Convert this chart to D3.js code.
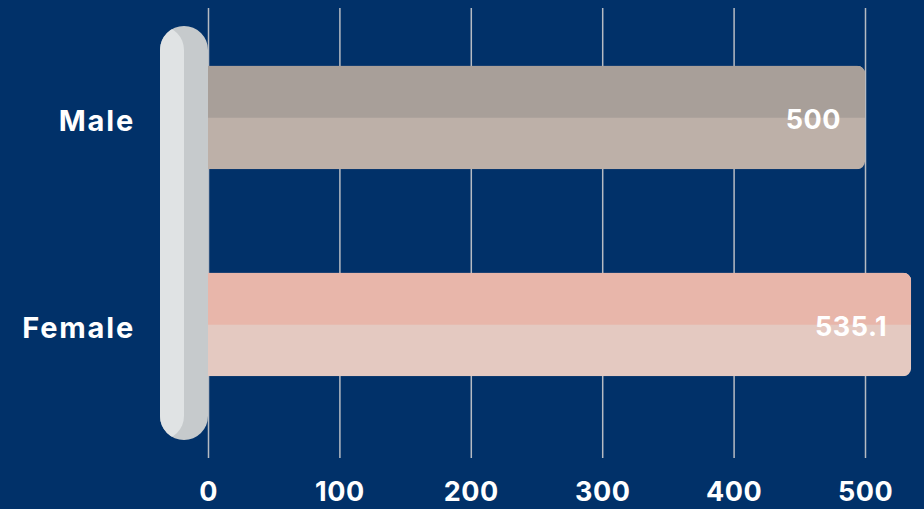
<!DOCTYPE html>
<html>
<head>
<meta charset="utf-8">
<script src="https://cdn.jsdelivr.net/npm/d3@7"></script>
<style>
  html, body { margin: 0; padding: 0; background: #013169; }
  svg { display: block; }
  text { font-family: Inter, "Open Sans", sans-serif; fill: #ffffff; }
</style>
</head>
<body>
<svg id="chart" width="924" height="509"></svg>
<script>
// Data
const categories = ["Male", "Female"];
const values = [500, 535.1];
const tickValues = [0, 100, 200, 300, 400, 500];
const topColors = ["#a89f99", "#e8b6aa"];
const bottomColors = ["#bdb0a8", "#e4c9c1"];

const W = 924, H = 509;
const svg = d3.select("#chart");

svg.append("rect").attr("width", W).attr("height", H).attr("fill", "#013169");

const x = d3.scaleLinear().domain([0, 500]).range([208, 865]);
const y = d3.scaleBand().domain(categories).range([14, 428]).paddingInner(0.5).paddingOuter(0.25);

// Gridlines and tick labels
const gridTop = 8, gridBottom = 458;
const axis = d3.axisBottom(x)
  .tickValues(tickValues)
  .tickSize(-(gridBottom - gridTop))
  .tickFormat(d3.format("d"));

const gAxis = svg.append("g")
  .attr("transform", `translate(0,${gridBottom})`)
  .call(axis);
gAxis.select(".domain").remove();
gAxis.selectAll(".tick line")
  .attr("stroke", "#b6bbc3")
  .attr("stroke-width", 1.5);
gAxis.selectAll(".tick text")
  .attr("y", 43)
  .attr("dy", null)
  .attr("fill", "#ffffff")
  .style("font-size", "27px")
  .style("font-weight", 700)
  .style("letter-spacing", "0.5px");

// Bars: two-tone, rounded at the value end
const defs = svg.append("defs");
const bars = svg.append("g");
categories.forEach((c, i) => {
  const x0 = x(0) - 30, x1 = x(values[i]);
  const y0 = y(c), h = y.bandwidth();
  const cid = "barclip" + i;
  defs.append("clipPath").attr("id", cid)
    .append("rect")
    .attr("x", x0).attr("y", y0)
    .attr("width", x1 - x0).attr("height", h)
    .attr("rx", 8).attr("ry", 8);
  const g = bars.append("g").attr("clip-path", `url(#${cid})`);
  g.append("rect")
    .attr("x", x0).attr("y", y0)
    .attr("width", x1 - x0).attr("height", h)
    .attr("fill", bottomColors[i]);
  g.append("rect")
    .attr("x", x0).attr("y", y0)
    .attr("width", x1 - x0).attr("height", Math.round(h / 2))
    .attr("fill", topColors[i]);
});

// Value labels inside the bars
svg.append("g").selectAll("text")
  .data(categories)
  .join("text")
  .attr("x", (c, i) => x(values[i]) - 24)
  .attr("y", c => y(c) + y.bandwidth() / 2 + 11)
  .attr("text-anchor", "end")
  .style("font-size", "27px")
  .style("font-weight", 700)
  .style("letter-spacing", "0.5px")
  .text((c, i) => d3.format("~f")(values[i]));

// Category labels
svg.append("g").selectAll("text")
  .data(categories)
  .join("text")
  .attr("x", 135)
  .attr("y", c => y(c) + y.bandwidth() / 2 + 13.5)
  .attr("text-anchor", "end")
  .style("font-size", "29px")
  .style("font-weight", 700)
  .style("letter-spacing", "1.8px")
  .text(c => c);

// Rounded pillar along the value axis origin
const px = 160, pw = 48, py = 26, ph = 414;
defs.append("clipPath").attr("id", "pillclip")
  .append("rect")
  .attr("x", px).attr("y", py).attr("width", pw).attr("height", ph)
  .attr("rx", pw / 2).attr("ry", pw / 2);
const pill = svg.append("g").attr("clip-path", "url(#pillclip)");
pill.append("rect")
  .attr("x", px).attr("y", py).attr("width", pw).attr("height", ph)
  .attr("fill", "#c6cacc");
pill.append("rect")
  .attr("x", px - pw / 2).attr("y", py).attr("width", pw).attr("height", ph)
  .attr("rx", pw / 2).attr("ry", pw / 2)
  .attr("fill", "#e0e3e4");
</script>
</body>
</html>
